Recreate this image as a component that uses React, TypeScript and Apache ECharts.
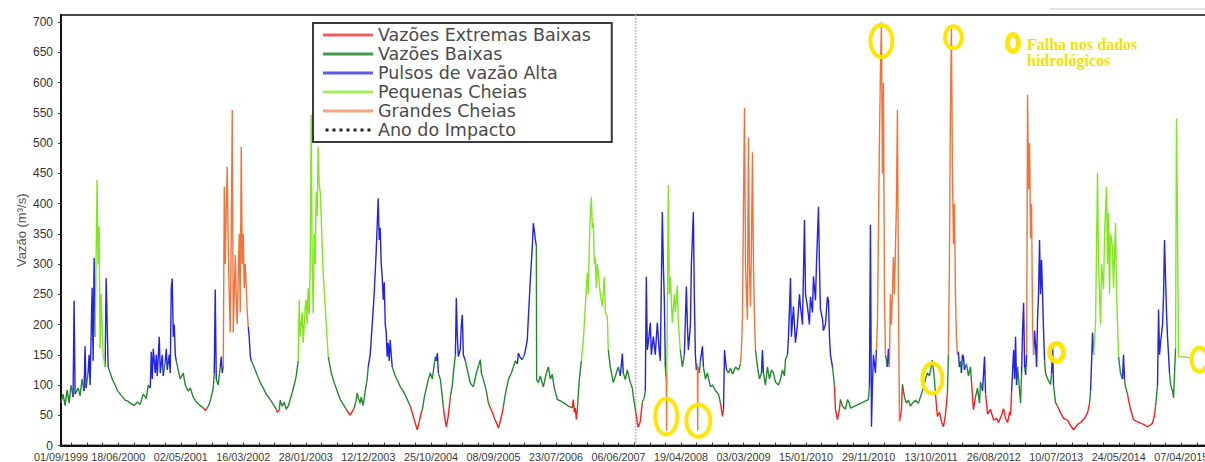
import React, { useEffect, useRef } from 'react';
import * as echarts from 'echarts';

// ---------- axis texts ----------
const xTickLabels = ['01/09/1999', '18/06/2000', '02/05/2001', '16/03/2002', '28/01/2003', '12/12/2003', '25/10/2004', '08/09/2005', '23/07/2006', '06/06/2007', '19/04/2008', '03/03/2009', '15/01/2010', '29/11/2010', '13/10/2011', '26/08/2012', '10/07/2013', '24/05/2014', '07/04/2015'];
const axisStart = '01/09/1999';
const axisEnd = '31/12/2015';
const yTickValues = [0, 50, 100, 150, 200, 250, 300, 350, 400, 450, 500, 550, 600, 650, 700];
const yMax = 712;
const yAxisName = 'Vazão (m³/s)';

// ---------- classes ----------
// 0 extreme low, 1 low, 2 high pulse, 3 small flood, 4 large flood
const classNames = ['Vazões Extremas Baixas', 'Vazões Baixas', 'Pulsos de vazão Alta', 'Pequenas Cheias', 'Grandes Cheias'];
const impactName = 'Ano do Impacto';
const impactDate = '01/09/2007';
const noteLines = ['Falha nos dados', 'hidrológicos'];

// ---------- daily flow record (decimal year, m3/s, class) ----------
const flow1999 = [
  [1999.667, 71, 1], [1999.695, 85, 1], [1999.723, 66, 1], [1999.751, 92, 1], [1999.778, 70, 1], [1999.806, 100, 1], [1999.834, 80, 1], [1999.848, 240, 2], [1999.862, 85, 1], [1999.904, 95, 1], [1999.932, 82, 1], [1999.960, 110, 1], [1999.987, 90, 1], [2000.001, 164, 2], [2000.015, 95, 1], [2000.043, 120, 1], [2000.057, 150, 2], [2000.071, 100, 1], [2000.099, 261, 2], [2000.113, 140, 2], [2000.127, 310, 2], [2000.141, 180, 2], [2000.168, 439, 3], [2000.182, 300, 3], [2000.196, 362, 3], [2000.210, 160, 3], [2000.224, 250, 3], [2000.252, 150, 3], [2000.280, 130, 1], [2000.294, 277, 2], [2000.308, 200, 2], [2000.322, 130, 1], [2000.350, 120, 1], [2000.385, 108, 1], [2000.419, 100, 1], [2000.455, 90, 1], [2000.489, 85, 1], [2000.558, 75, 1], [2000.600, 73, 1], [2000.628, 70, 1], [2000.684, 66, 1], [2000.725, 72, 1], [2000.767, 68, 1], [2000.809, 85, 1], [2000.851, 78, 1], [2000.879, 100, 1], [2000.907, 95, 1],
];
const flow2000 = [
  [2000.921, 155, 2], [2000.935, 110, 1], [2000.949, 160, 2], [2000.976, 120, 1], [2000.990, 150, 2], [2001.004, 115, 1], [2001.032, 180, 2], [2001.046, 120, 1], [2001.074, 150, 2], [2001.088, 115, 1], [2001.116, 140, 1], [2001.130, 160, 2], [2001.143, 125, 1], [2001.171, 150, 2], [2001.185, 120, 1], [2001.199, 260, 2], [2001.213, 276, 2], [2001.227, 180, 2], [2001.241, 200, 2], [2001.255, 150, 2], [2001.269, 140, 1], [2001.296, 125, 1], [2001.324, 110, 1], [2001.366, 120, 1], [2001.394, 100, 1], [2001.436, 90, 1], [2001.464, 95, 1], [2001.505, 80, 1], [2001.547, 72, 1], [2001.603, 66, 1], [2001.645, 62, 1], [2001.672, 58, 0], [2001.700, 62, 1], [2001.728, 68, 1], [2001.756, 80, 1], [2001.784, 95, 1], [2001.798, 120, 1], [2001.812, 258, 2], [2001.826, 110, 1], [2001.853, 100, 1], [2001.882, 130, 1], [2001.896, 147, 2], [2001.910, 120, 1], [2001.924, 130, 1],
];
const flow2002 = [
  [2001.938, 428, 4], [2001.952, 300, 4], [2001.965, 390, 4], [2001.979, 461, 4], [2001.993, 330, 4], [2002.007, 250, 4], [2002.021, 187, 4], [2002.035, 350, 4], [2002.049, 555, 4], [2002.063, 187, 4], [2002.077, 250, 4], [2002.091, 315, 4], [2002.105, 240, 4], [2002.118, 200, 4], [2002.132, 280, 4], [2002.146, 350, 4], [2002.160, 220, 4], [2002.174, 494, 4], [2002.188, 300, 4], [2002.202, 350, 4], [2002.216, 260, 4], [2002.230, 300, 4], [2002.244, 263, 4], [2002.258, 220, 4], [2002.272, 196, 2], [2002.285, 180, 2], [2002.299, 150, 2], [2002.313, 140, 1],
  [2002.327, 137, 1], [2002.369, 125, 1], [2002.411, 112, 1], [2002.439, 104, 1], [2002.481, 95, 1], [2002.522, 85, 1], [2002.578, 76, 1], [2002.620, 68, 1], [2002.662, 60, 1], [2002.676, 55, 0], [2002.704, 58, 1], [2002.717, 75, 1], [2002.745, 65, 1], [2002.773, 72, 1], [2002.801, 60, 1], [2002.829, 65, 1], [2002.857, 76, 1], [2002.885, 88, 1], [2002.912, 100, 1], [2002.940, 115, 1], [2002.968, 140, 1],
];
const flow2003 = [
  [2002.982, 241, 3], [2002.996, 180, 3], [2003.024, 220, 3], [2003.038, 170, 3], [2003.066, 230, 3], [2003.079, 241, 3], [2003.093, 200, 3], [2003.107, 260, 3], [2003.121, 218, 3], [2003.135, 300, 3], [2003.149, 547, 3], [2003.163, 300, 3], [2003.177, 219, 3], [2003.191, 350, 3], [2003.205, 300, 3], [2003.219, 420, 3], [2003.232, 380, 3], [2003.246, 494, 3], [2003.260, 430, 3], [2003.274, 420, 3], [2003.288, 380, 3], [2003.302, 330, 3], [2003.316, 286, 3], [2003.344, 230, 3], [2003.372, 175, 3], [2003.386, 147, 1],
  [2003.428, 120, 1], [2003.469, 104, 1], [2003.511, 90, 1], [2003.553, 76, 1], [2003.595, 68, 1], [2003.636, 60, 1], [2003.664, 55, 0], [2003.692, 50, 0], [2003.720, 56, 0], [2003.748, 62, 1], [2003.776, 75, 1], [2003.789, 87, 1], [2003.803, 80, 1], [2003.831, 70, 1], [2003.845, 80, 1], [2003.873, 66, 1], [2003.901, 90, 1], [2003.929, 110, 1], [2003.943, 130, 1],
];
const flow2004 = [
  [2003.971, 150, 2], [2003.999, 200, 2], [2004.026, 250, 2], [2004.054, 320, 2], [2004.082, 409, 2], [2004.096, 340, 2], [2004.110, 360, 2], [2004.124, 300, 2], [2004.138, 279, 2], [2004.152, 241, 2], [2004.166, 270, 2], [2004.180, 200, 2], [2004.194, 187, 2], [2004.207, 147, 2], [2004.221, 170, 2], [2004.235, 140, 2], [2004.249, 175, 2], [2004.263, 150, 2], [2004.277, 130, 1],
  [2004.319, 115, 1], [2004.361, 105, 1], [2004.389, 97, 1], [2004.430, 90, 1], [2004.486, 76, 1], [2004.528, 65, 1], [2004.556, 54, 0], [2004.584, 42, 0], [2004.625, 26, 0], [2004.653, 40, 0], [2004.681, 55, 0], [2004.695, 59, 1], [2004.723, 80, 1], [2004.751, 95, 1], [2004.778, 109, 1], [2004.806, 120, 1], [2004.834, 110, 1], [2004.862, 135, 1], [2004.876, 147, 1], [2004.890, 140, 1], [2004.904, 153, 2], [2004.918, 120, 1], [2004.946, 109, 1], [2004.973, 80, 1], [2004.987, 64, 1],
];
const flow2005 = [
  [2005.001, 50, 0], [2005.029, 31, 0], [2005.057, 50, 0], [2005.085, 81, 1], [2005.113, 100, 1], [2005.127, 120, 1], [2005.155, 150, 1], [2005.168, 244, 2], [2005.182, 180, 2], [2005.196, 147, 2], [2005.224, 160, 2], [2005.238, 200, 2], [2005.252, 216, 2], [2005.266, 150, 2], [2005.294, 140, 1], [2005.322, 125, 1], [2005.364, 103, 1], [2005.405, 97, 1], [2005.447, 120, 1], [2005.503, 142, 1], [2005.517, 120, 1], [2005.545, 109, 1], [2005.586, 90, 1], [2005.614, 71, 1], [2005.642, 62, 1], [2005.670, 55, 0], [2005.698, 45, 0], [2005.726, 38, 0], [2005.754, 29, 0], [2005.781, 40, 0], [2005.809, 55, 0], [2005.823, 64, 1], [2005.851, 85, 1], [2005.893, 109, 1], [2005.935, 120, 1], [2005.963, 130, 1], [2005.990, 140, 1],
];
const flow2006 = [
  [2006.018, 135, 1], [2006.032, 153, 2], [2006.060, 145, 2], [2006.088, 142, 1], [2006.116, 150, 1], [2006.143, 165, 2], [2006.157, 175, 2], [2006.171, 210, 2], [2006.199, 274, 2], [2006.227, 330, 2], [2006.241, 368, 2], [2006.255, 355, 2], [2006.269, 340, 2], [2006.283, 330, 1], [2006.287, 109, 1],
  [2006.310, 104, 1], [2006.338, 115, 1], [2006.380, 97, 1], [2006.422, 120, 1], [2006.450, 130, 1], [2006.478, 110, 1], [2006.505, 118, 1], [2006.533, 95, 1], [2006.575, 76, 1], [2006.617, 74, 1], [2006.659, 71, 1], [2006.700, 68, 1], [2006.728, 65, 1], [2006.756, 64, 1], [2006.784, 62, 1], [2006.798, 76, 0], [2006.812, 55, 0], [2006.826, 62, 0], [2006.840, 43, 0], [2006.854, 60, 1], [2006.882, 110, 1], [2006.910, 140, 1],
];
const flow2007 = [
  [2006.938, 175, 3], [2006.965, 230, 3], [2006.993, 286, 3], [2007.007, 250, 3], [2007.021, 330, 3], [2007.035, 380, 3], [2007.049, 411, 3], [2007.063, 360, 3], [2007.077, 368, 3], [2007.091, 300, 3], [2007.105, 310, 3], [2007.118, 260, 3], [2007.132, 300, 3], [2007.146, 286, 3], [2007.174, 250, 3], [2007.202, 230, 3], [2007.230, 279, 3], [2007.244, 220, 3], [2007.272, 213, 3], [2007.285, 158, 1],
  [2007.313, 130, 1], [2007.355, 104, 1], [2007.397, 120, 1], [2007.425, 130, 1], [2007.453, 115, 1], [2007.481, 152, 2], [2007.494, 120, 1], [2007.522, 109, 1], [2007.550, 125, 1], [2007.592, 104, 1], [2007.620, 95, 1], [2007.634, 81, 1], [2007.662, 60, 1], [2007.689, 38, 0], [2007.703, 30, 0], [2007.731, 40, 0], [2007.759, 71, 1], [2007.787, 80, 1], [2007.801, 90, 1],
];
const flow2008 = [
  [2007.815, 279, 2], [2007.829, 158, 2], [2007.843, 170, 2], [2007.871, 203, 2], [2007.885, 150, 2], [2007.913, 180, 2], [2007.940, 150, 2], [2007.968, 203, 2], [2007.996, 155, 2], [2008.010, 140, 1], [2008.038, 386, 2], [2008.052, 300, 2], [2008.066, 241, 2], [2008.080, 130, 1], [2008.093, 109, 1], [2008.097, 25, 4], [2008.101, 120, 1],
  [2008.121, 431, 3], [2008.135, 250, 3], [2008.149, 279, 3], [2008.177, 203, 3], [2008.205, 250, 3], [2008.219, 220, 3], [2008.246, 265, 3], [2008.260, 203, 3], [2008.288, 158, 1], [2008.316, 130, 1], [2008.344, 150, 1], [2008.372, 263, 2], [2008.386, 200, 2], [2008.400, 158, 2], [2008.428, 200, 2], [2008.442, 300, 2], [2008.469, 386, 2], [2008.483, 244, 2], [2008.497, 150, 2], [2008.511, 125, 1], [2008.525, 135, 1], [2008.529, 25, 4], [2008.534, 130, 1],
  [2008.553, 120, 1], [2008.567, 140, 1], [2008.595, 164, 2], [2008.609, 130, 1], [2008.637, 110, 1], [2008.664, 120, 1], [2008.706, 97, 1], [2008.734, 100, 1], [2008.776, 91, 1], [2008.818, 85, 1], [2008.846, 70, 1], [2008.874, 48, 0], [2008.888, 60, 1], [2008.902, 158, 2], [2008.916, 140, 2], [2008.930, 125, 1], [2008.957, 120, 1], [2008.985, 128, 1],
];
const flow2009 = [
  [2009.013, 118, 1], [2009.055, 130, 1], [2009.096, 125, 1], [2009.124, 135, 1], [2009.138, 160, 4], [2009.152, 213, 4], [2009.166, 400, 4], [2009.180, 558, 4], [2009.194, 300, 4], [2009.208, 250, 4], [2009.221, 208, 4], [2009.235, 510, 4], [2009.249, 300, 4], [2009.263, 230, 4], [2009.277, 330, 4], [2009.291, 485, 4], [2009.305, 300, 4], [2009.319, 213, 4], [2009.333, 158, 1],
  [2009.361, 130, 1], [2009.389, 110, 1], [2009.417, 120, 1], [2009.430, 158, 2], [2009.444, 120, 1], [2009.472, 100, 1], [2009.500, 130, 1], [2009.528, 110, 1], [2009.556, 125, 1], [2009.584, 120, 1], [2009.611, 105, 1], [2009.653, 100, 1], [2009.681, 109, 1], [2009.709, 125, 1], [2009.737, 115, 1], [2009.751, 142, 1], [2009.779, 150, 1],
];
const flow2010 = [
  [2009.793, 180, 2], [2009.821, 277, 2], [2009.834, 180, 2], [2009.862, 230, 2], [2009.890, 170, 2], [2009.918, 200, 2], [2009.946, 250, 2], [2009.960, 230, 2], [2009.988, 200, 2], [2010.016, 373, 2], [2010.030, 250, 2], [2010.057, 230, 2], [2010.085, 200, 2], [2010.099, 246, 2], [2010.127, 220, 2], [2010.141, 280, 2], [2010.169, 240, 2], [2010.183, 300, 2], [2010.211, 395, 2], [2010.224, 300, 2], [2010.238, 225, 2], [2010.266, 210, 2], [2010.280, 190, 2], [2010.308, 200, 2], [2010.336, 246, 2], [2010.350, 240, 2], [2010.364, 180, 2], [2010.378, 150, 2], [2010.406, 130, 1],
  [2010.433, 100, 1], [2010.447, 60, 0], [2010.475, 43, 0], [2010.503, 60, 0], [2010.517, 76, 1], [2010.545, 65, 1], [2010.587, 60, 1], [2010.615, 76, 1], [2010.642, 70, 1], [2010.656, 62, 1], [2010.907, 76, 1], [2010.921, 100, 1], [2010.935, 365, 2], [2010.949, 31, 2], [2010.963, 100, 2], [2010.976, 150, 2],
];
const flow2011 = [
  [2011.004, 120, 2], [2011.018, 158, 2], [2011.032, 200, 4], [2011.046, 350, 4], [2011.060, 500, 4], [2011.074, 620, 4], [2011.088, 700, 4], [2011.102, 450, 4], [2011.116, 600, 4], [2011.130, 250, 4], [2011.144, 150, 1], [2011.171, 130, 1], [2011.185, 160, 2], [2011.199, 130, 1], [2011.213, 250, 4], [2011.227, 200, 4], [2011.241, 250, 4], [2011.255, 312, 4], [2011.269, 250, 4], [2011.297, 400, 4], [2011.311, 555, 4], [2011.325, 250, 4], [2011.339, 40, 0], [2011.353, 48, 0], [2011.367, 60, 0], [2011.381, 101, 1],
  [2011.409, 80, 1], [2011.436, 70, 1], [2011.464, 75, 1], [2011.492, 65, 1], [2011.520, 70, 1], [2011.562, 75, 1], [2011.603, 70, 1], [2011.631, 80, 1], [2011.673, 95, 1], [2011.701, 110, 1], [2011.729, 120, 1], [2011.757, 115, 1], [2011.798, 141, 1], [2011.826, 110, 1], [2011.840, 86, 1], [2011.868, 48, 0], [2011.896, 55, 0], [2011.924, 40, 0], [2011.952, 31, 0], [2011.979, 50, 0],
];
const flow2012 = [
  [2012.007, 86, 1], [2012.021, 150, 1], [2012.035, 300, 4], [2012.049, 550, 4], [2012.063, 695, 4], [2012.077, 450, 4], [2012.091, 333, 4], [2012.105, 400, 4], [2012.119, 250, 4], [2012.132, 180, 4], [2012.146, 150, 1],
  [2012.160, 155, 2], [2012.174, 130, 1], [2012.188, 140, 1], [2012.202, 120, 1], [2012.216, 150, 2], [2012.230, 147, 2], [2012.244, 125, 1], [2012.272, 135, 1], [2012.300, 115, 1], [2012.328, 130, 1], [2012.342, 105, 1], [2012.369, 59, 0], [2012.397, 80, 1], [2012.425, 95, 1], [2012.453, 70, 1], [2012.467, 105, 1], [2012.495, 90, 1], [2012.523, 147, 2], [2012.537, 86, 1], [2012.565, 52, 0], [2012.606, 60, 0], [2012.648, 42, 0], [2012.690, 45, 0], [2012.718, 38, 0], [2012.759, 50, 0], [2012.787, 61, 1], [2012.815, 45, 0], [2012.843, 38, 0], [2012.871, 55, 0], [2012.885, 50, 0], [2012.899, 90, 1], [2012.927, 158, 2], [2012.941, 110, 1], [2012.954, 180, 2], [2012.968, 100, 1], [2012.982, 130, 1],
];
const flow2013 = [
  [2013.010, 90, 1], [2013.024, 70, 1], [2013.038, 120, 1], [2013.052, 191, 2], [2013.066, 236, 2], [2013.080, 130, 1], [2013.094, 117, 1], [2013.108, 150, 2], [2013.121, 580, 4], [2013.135, 424, 4], [2013.149, 500, 4], [2013.163, 343, 4], [2013.177, 400, 4], [2013.191, 198, 4], [2013.205, 150, 2],
  [2013.219, 190, 2], [2013.233, 165, 2], [2013.247, 130, 1], [2013.260, 208, 2], [2013.274, 250, 2], [2013.288, 340, 2], [2013.302, 250, 2], [2013.316, 307, 2], [2013.330, 250, 2], [2013.344, 189, 2], [2013.358, 140, 1], [2013.372, 119, 1], [2013.400, 110, 1], [2013.442, 101, 1], [2013.456, 120, 1], [2013.470, 164, 2], [2013.483, 100, 1], [2013.511, 71, 1], [2013.539, 65, 1], [2013.581, 54, 0], [2013.623, 45, 0], [2013.678, 42, 0], [2013.720, 33, 0], [2013.762, 26, 0], [2013.818, 35, 0], [2013.860, 38, 0], [2013.915, 45, 0], [2013.957, 54, 0], [2013.985, 70, 1],
];
const flow2014 = [
  [2013.999, 90, 1], [2014.027, 187, 2], [2014.041, 150, 1], [2014.068, 200, 3], [2014.096, 451, 3], [2014.110, 300, 3], [2014.138, 200, 3], [2014.152, 300, 3], [2014.180, 259, 3], [2014.194, 350, 3], [2014.221, 428, 3], [2014.235, 300, 3], [2014.249, 385, 3], [2014.263, 250, 3], [2014.277, 350, 3], [2014.305, 328, 3], [2014.319, 260, 3], [2014.347, 368, 3], [2014.361, 250, 3], [2014.375, 199, 3], [2014.389, 147, 1],
  [2014.417, 119, 1], [2014.444, 110, 1], [2014.458, 150, 2], [2014.472, 110, 1], [2014.486, 97, 1], [2014.514, 85, 1], [2014.528, 75, 0], [2014.556, 60, 0], [2014.597, 43, 0], [2014.639, 40, 0], [2014.695, 37, 0], [2014.737, 35, 0], [2014.793, 31, 0], [2014.834, 34, 0], [2014.862, 37, 0], [2014.890, 50, 0], [2014.904, 64, 1], [2014.932, 100, 1], [2014.946, 225, 2], [2014.960, 150, 2], [2014.974, 170, 2],
];
const flow2015 = [
  [2015.002, 200, 2], [2015.016, 250, 2], [2015.029, 340, 2], [2015.043, 280, 2], [2015.057, 220, 2], [2015.071, 180, 2], [2015.085, 150, 2], [2015.099, 120, 1], [2015.113, 101, 1], [2015.141, 90, 1], [2015.155, 79, 1], [2015.169, 120, 1], [2015.183, 161, 1], [2015.196, 541, 3], [2015.210, 370, 3], [2015.224, 147, 3], [2015.433, 145, 3],
];

// ---------- rings marking data gaps ----------
const gapDates = [2008.093, 2008.539, 2011.088, 2011.798, 2012.091, 2013.525, 2015.517];
const gapValues = [48, 41, 669, 111, 675, 154, 142];

// ---------- styles ----------
const lineColors = ['#ff1c1c', '#22892c', '#2222e8', '#80e620', '#f2733a'];
const legendColors = ['#f45c5c', '#3f9a4a', '#5c5ce8', '#a2ee5a', '#f8a486'];
const gapRingSizes = [[11, 18, 4], [12, 16, 4], [11, 16, 4], [10, 15, 4], [8.5, 11, 4], [7, 9, 5], [8, 12, 4]];
const ringColor = '#ffe600';
const dottedIcon = 'path://M0,0h3v3h-3zM7,0h3v3h-3zM14,0h3v3h-3zM21,0h3v3h-3zM28,0h3v3h-3zM35,0h3v3h-3zM42,0h3v3h-3z';

const parseDMY = (s: string) => {
  const [d, m, y] = s.split('/').map(Number);
  return Date.UTC(y, m - 1, d);
};
const fromYear = (yr: number) => {
  const Y = Math.floor(yr);
  const a = Date.UTC(Y, 0, 1);
  const b = Date.UTC(Y + 1, 0, 1);
  return a + (yr - Y) * (b - a);
};
const pad = (n: number) => (n < 10 ? '0' + n : '' + n);
const fmtDMY = (v: number) => {
  const d = new Date(v);
  return pad(d.getUTCDate()) + '/' + pad(d.getUTCMonth() + 1) + '/' + d.getUTCFullYear();
};

export default function App() {
  const ref = useRef<HTMLDivElement>(null);
  useEffect(() => {
    document.body.style.margin = '0';
    document.body.style.overflow = 'hidden';
    const chart = echarts.init(ref.current!, null, { renderer: 'svg' });

    const flow = [...flow1999, ...flow2000, ...flow2002, ...flow2003, ...flow2004, ...flow2005, ...flow2006, ...flow2007, ...flow2008, ...flow2009, ...flow2010, ...flow2011, ...flow2012, ...flow2013, ...flow2014, ...flow2015];
    const rank = [1, 0, 2, 3, 4];
    const segData: any[][] = [[], [], [], [], []];
    const lastSeg = [-5, -5, -5, -5, -5];
    for (let i = 0; i < flow.length - 1; i++) {
      const a = flow[i];
      const b = flow[i + 1];
      const c = rank[a[2]] >= rank[b[2]] ? a[2] : b[2];
      const arr = segData[c];
      if (lastSeg[c] !== i - 1) {
        if (arr.length) arr.push([fromYear(a[0]), null]);
        arr.push([fromYear(a[0]), a[1]]);
      }
      arr.push([fromYear(b[0]), b[1]]);
      lastSeg[c] = i;
    }

    const xMin = parseDMY(axisStart);
    const xMax = parseDMY(axisEnd);
    const labelTs = xTickLabels.map(parseDMY);
    const step = labelTs[2] - labelTs[1];
    const tickTs: number[] = [];
    for (let k = -1; k < 20; k++) {
      for (let j = 0; j < 4; j++) {
        const t = labelTs[1] + (k + j / 4) * step;
        if (t > xMin && t <= xMax) tickTs.push(t);
      }
    }
    const impactTs = parseDMY(impactDate);

    const drawOrder = [1, 0, 2, 3, 4];
    const flowSeries = drawOrder.map((c) => ({
      type: 'line',
      name: classNames[c],
      data: segData[c],
      symbol: 'none',
      showSymbol: false,
      connectNulls: false,
      lineStyle: { color: lineColors[c], width: 1.4 },
      itemStyle: { color: lineColors[c] },
      z: 2 + c * 0.01,
      silent: true,
    }));

    const option: any = {
      animation: false,
      textStyle: { fontFamily: 'Liberation Sans, Arial, sans-serif' },
      grid: {
        left: 61, top: 15, bottom: 16, right: 0,
        show: true, borderColor: '#4a4a4a', borderWidth: 2, backgroundColor: 'transparent',
      },
      xAxis: {
        type: 'value',
        min: xMin,
        max: xMax,
        axisLine: { lineStyle: { color: '#111', width: 2 } },
        axisTick: { inside: true, length: 3, customValues: tickTs, lineStyle: { color: '#333' } },
        axisLabel: {
          customValues: labelTs,
          showMinLabel: true,
          hideOverlap: false,
          formatter: (v: number) => fmtDMY(v),
          color: '#3a3a3a', fontSize: 10.8, lineHeight: 10, margin: 6,
          fontFamily: 'Liberation Sans, Arial, sans-serif',
        },
        splitLine: { show: false },
      },
      yAxis: {
        type: 'value',
        min: 0,
        max: yMax,
        name: yAxisName,
        nameLocation: 'middle',
        nameGap: 33,
        nameMoveOverlap: false,
        nameTextStyle: { fontSize: 13, color: '#555', fontFamily: 'Liberation Sans, Arial, sans-serif' },
        axisLine: { show: true, lineStyle: { color: '#111', width: 2 } },
        axisTick: { show: true, length: 3, customValues: yTickValues, lineStyle: { color: '#333' } },
        axisLabel: { customValues: yTickValues, color: '#333', fontSize: 12, lineHeight: 11, margin: 8, fontFamily: 'Liberation Sans, Arial, sans-serif' },
        splitLine: { show: false },
      },
      legend: {
        left: 313,
        top: 23,
        orient: 'vertical',
        padding: [3, 21, 3, 10],
        itemWidth: 50,
        itemHeight: 3,
        itemGap: 1,
        backgroundColor: '#ffffff',
        borderColor: '#3a3a3a',
        borderWidth: 2,
        borderRadius: 0,
        selectedMode: false,
        textStyle: { fontSize: 17.5, color: '#4a4a4a', fontFamily: 'DejaVu Sans, sans-serif' },
        data: [
          ...classNames.map((n, c) => ({ name: n, icon: 'rect', itemStyle: { color: legendColors[c] } })),
          { name: impactName, icon: dottedIcon, itemStyle: { color: '#222' } },
        ],
      },
      series: [
        {
          type: 'line',
          name: impactName,
          data: [[impactTs, 0], [impactTs, yMax]],
          symbol: 'none',
          lineStyle: { color: '#aaaaaa', width: 1.5, type: 'dotted' },
          itemStyle: { color: '#222' },
          z: 1,
          silent: true,
        },
        ...flowSeries,
        {
          type: 'custom',
          name: 'gaps',
          data: gapDates.map((d, i) => [fromYear(d), gapValues[i], i]),
          clip: false,
          silent: true,
          z: 10,
          renderItem: (params: any, api: any) => {
            const p = api.coord([api.value(0), api.value(1)]);
            const s = gapRingSizes[api.value(2)];
            return {
              type: 'ellipse',
              shape: { cx: p[0], cy: p[1], rx: s[0], ry: s[1] },
              style: { fill: 'none', stroke: ringColor, lineWidth: s[2] },
            };
          },
        },
      ],
      graphic: [
        { type: 'line', shape: { x1: 1050, y1: 9, x2: 1205, y2: 9 }, style: { stroke: '#c8c8c8', lineWidth: 1 }, silent: true },
        { type: 'ellipse', shape: { cx: 1013, cy: 43, rx: 5.5, ry: 8.5 }, style: { fill: 'none', stroke: ringColor, lineWidth: 5 }, silent: true },
        {
          type: 'text', left: 1027, top: 36,
          style: { text: noteLines[0], fill: '#f2e200', font: 'bold 16px "Liberation Serif", serif' },
          silent: true,
        },
        {
          type: 'text', left: 1027, top: 52,
          style: { text: noteLines[1], fill: '#f2e200', font: 'bold 16px "Liberation Serif", serif' },
          silent: true,
        },
      ],
    };
    chart.setOption(option);
    return () => chart.dispose();
  }, []);
  return (
    <div
      ref={ref}
      style={{ position: 'fixed', left: 0, top: 0, width: 1234, height: 462, background: '#fff' }}
    />
  );
}
